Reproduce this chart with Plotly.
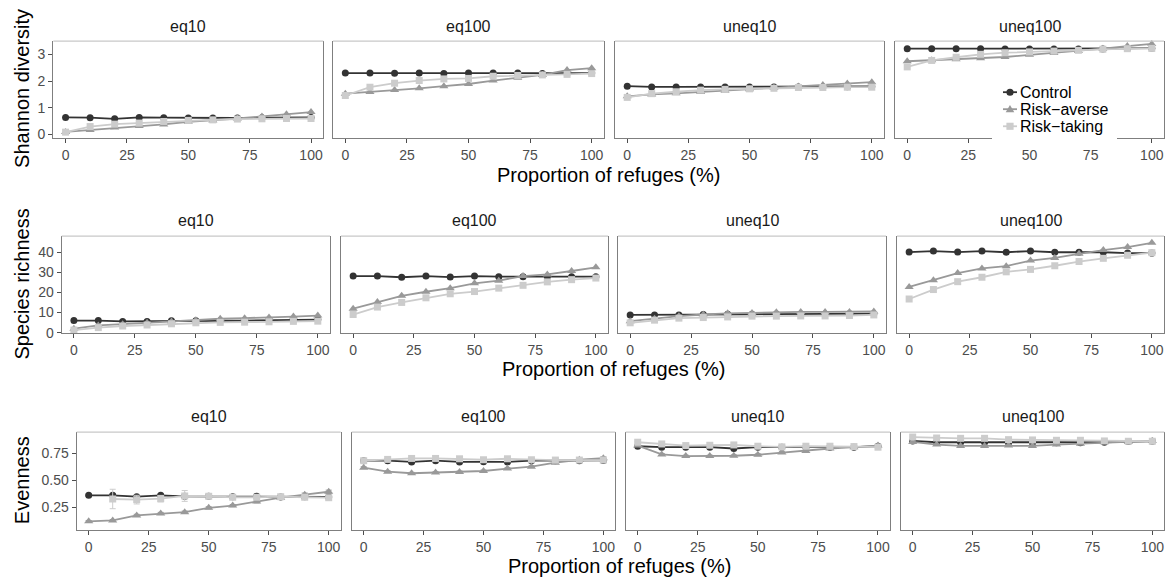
import plotly.graph_objects as go

# Proportion of refuges (%)
refuge = [0, 10, 20, 30, 40, 50, 60, 70, 80, 90, 100]
scenarios = ["eq10", "eq100", "uneq10", "uneq100"]
treatments = ["Control", "Risk\u2212averse", "Risk\u2212taking"]

# Shannon diversity, one list per scenario (eq10, eq100, uneq10, uneq100)
shannon_control = [
    [0.64, 0.63, 0.59, 0.64, 0.63, 0.62, 0.62, 0.62, 0.63, 0.64, 0.64],
    [2.30, 2.30, 2.29, 2.30, 2.28, 2.30, 2.30, 2.30, 2.28, 2.28, 2.30],
    [1.81, 1.78, 1.78, 1.78, 1.78, 1.78, 1.78, 1.78, 1.78, 1.79, 1.80],
    [3.21, 3.21, 3.21, 3.21, 3.20, 3.20, 3.20, 3.20, 3.20, 3.22, 3.23],
]
shannon_averse = [
    [0.10, 0.17, 0.26, 0.32, 0.38, 0.48, 0.53, 0.60, 0.68, 0.76, 0.84],
    [1.53, 1.59, 1.67, 1.73, 1.81, 1.89, 2.02, 2.12, 2.23, 2.41, 2.48],
    [1.43, 1.50, 1.54, 1.59, 1.64, 1.69, 1.75, 1.80, 1.85, 1.91, 1.96],
    [2.74, 2.78, 2.82, 2.85, 2.90, 2.98, 3.05, 3.12, 3.21, 3.31, 3.39],
]
shannon_taking = [
    [0.09, 0.30, 0.39, 0.43, 0.49, 0.53, 0.55, 0.58, 0.59, 0.60, 0.60],
    [1.46, 1.77, 1.92, 2.02, 2.08, 2.10, 2.18, 2.21, 2.23, 2.25, 2.28],
    [1.39, 1.53, 1.60, 1.66, 1.69, 1.71, 1.73, 1.76, 1.76, 1.77, 1.77],
    [2.53, 2.77, 2.89, 3.00, 3.06, 3.09, 3.12, 3.15, 3.19, 3.21, 3.22],
]

# Species richness
richness_control = [
    [6.0, 6.0, 5.6, 5.6, 5.9, 5.9, 5.9, 6.0, 6.2, 6.4, 6.5],
    [28.1, 28.1, 27.5, 28.1, 27.6, 28.1, 27.8, 27.8, 27.8, 27.8, 27.8],
    [8.8, 8.8, 8.8, 9.0, 9.1, 9.1, 9.2, 9.3, 9.3, 9.4, 9.4],
    [40.0, 40.5, 40.0, 40.5, 39.9, 40.5, 39.9, 39.9, 39.9, 39.5, 39.5],
]
richness_averse = [
    [2.0, 3.6, 4.2, 4.9, 5.6, 6.2, 6.9, 7.2, 7.5, 8.0, 8.5],
    [11.9, 15.2, 18.3, 20.3, 22.1, 24.5, 25.8, 28.1, 28.9, 30.6, 32.4],
    [5.7, 6.9, 8.2, 9.0, 9.6, 9.8, 10.1, 10.3, 10.3, 10.3, 10.5],
    [22.7, 26.0, 29.6, 31.9, 33.0, 35.8, 37.1, 39.1, 41.0, 42.5, 44.6],
]
richness_taking = [
    [1.3, 2.5, 3.3, 3.8, 4.4, 4.9, 5.1, 5.2, 5.4, 5.6, 5.7],
    [9.0, 12.7, 15.0, 17.3, 19.3, 20.4, 22.1, 23.5, 25.2, 26.3, 27.1],
    [4.9, 6.2, 7.2, 7.5, 7.8, 8.2, 8.2, 8.3, 8.3, 8.5, 8.8],
    [16.7, 21.4, 25.3, 27.5, 30.2, 31.4, 33.2, 35.3, 36.9, 38.4, 39.7],
]

# Evenness (undefined where a single species remains)
evenness_control = [
    [0.363, 0.363, 0.350, 0.363, 0.354, 0.354, 0.350, 0.354, 0.348, 0.350, 0.348],
    [0.683, 0.683, 0.672, 0.683, 0.672, 0.674, 0.672, 0.683, 0.683, 0.683, 0.686],
    [0.817, 0.808, 0.808, 0.808, 0.796, 0.808, 0.808, 0.808, 0.808, 0.808, 0.817],
    [0.866, 0.854, 0.854, 0.854, 0.850, 0.850, 0.850, 0.850, 0.854, 0.860, 0.863],
]
evenness_averse = [
    [0.122, 0.131, 0.177, 0.195, 0.207, 0.247, 0.268, 0.305, 0.341, 0.369, 0.396],
    [0.619, 0.582, 0.567, 0.573, 0.579, 0.588, 0.610, 0.628, 0.665, 0.692, 0.707],
    [0.823, 0.741, 0.726, 0.726, 0.729, 0.738, 0.759, 0.774, 0.796, 0.808, 0.823],
    [0.857, 0.832, 0.820, 0.820, 0.823, 0.820, 0.832, 0.841, 0.854, 0.857, 0.866],
]
evenness_taking = [
    [None, 0.329, 0.323, 0.332, 0.357, 0.354, 0.345, 0.345, 0.350, 0.345, 0.341],
    [0.683, 0.695, 0.704, 0.704, 0.701, 0.692, 0.701, 0.692, 0.689, 0.689, 0.689],
    [0.854, 0.838, 0.823, 0.826, 0.829, 0.817, 0.811, 0.817, 0.817, 0.814, 0.808],
    [0.902, 0.893, 0.890, 0.890, 0.878, 0.875, 0.872, 0.872, 0.866, 0.863, 0.863],
]
# Standard errors of evenness
evenness_control_se = [
    [0.010, 0.010, 0.008, 0.010, 0.012, 0.012, 0.010, 0.012, 0.012, 0.012, 0.012],
    [0.008, 0.008, 0.010, 0.008, 0.010, 0.010, 0.010, 0.008, 0.008, 0.008, 0.008],
    [0.010, 0.010, 0.008, 0.008, 0.010, 0.008, 0.008, 0.008, 0.008, 0.008, 0.010],
    [0.006, 0.008, 0.008, 0.008, 0.006, 0.006, 0.006, 0.006, 0.006, 0.006, 0.006],
]
evenness_averse_se = [
    [0.008, 0.008, 0.010, 0.010, 0.010, 0.010, 0.010, 0.012, 0.012, 0.015, 0.015],
    [0.008, 0.008, 0.008, 0.008, 0.008, 0.008, 0.008, 0.008, 0.008, 0.010, 0.012],
    [0.008, 0.008, 0.008, 0.008, 0.008, 0.008, 0.008, 0.008, 0.008, 0.008, 0.012],
    [0.006, 0.006, 0.006, 0.006, 0.006, 0.006, 0.006, 0.006, 0.006, 0.006, 0.006],
]
evenness_taking_se = [
    [None, 0.090, 0.040, 0.030, 0.050, 0.020, 0.015, 0.015, 0.015, 0.020, 0.015],
    [0.008, 0.008, 0.008, 0.008, 0.008, 0.008, 0.008, 0.008, 0.008, 0.012, 0.010],
    [0.008, 0.008, 0.008, 0.008, 0.008, 0.008, 0.008, 0.008, 0.008, 0.008, 0.008],
    [0.006, 0.006, 0.006, 0.006, 0.006, 0.006, 0.006, 0.006, 0.006, 0.008, 0.008],
]

metrics = [
    ("Shannon diversity", [shannon_control, shannon_averse, shannon_taking], None,
     [0, 1, 2, 3], None, [-0.14, 3.49]),
    ("Species richness", [richness_control, richness_averse, richness_taking], None,
     [0, 10, 20, 30, 40], None, [-0.3, 47.9]),
    ("Evenness", [evenness_control, evenness_averse, evenness_taking],
     [evenness_control_se, evenness_averse_se, evenness_taking_se],
     [0.25, 0.50, 0.75], ".2f", [0.046, 0.948]),
]

colors = ["#333333", "#999999", "#cccccc"]
symbols = ["circle", "triangle-up", "square"]
msizes = [7, 8, 7]

W, H = 1171, 585
FONT = "Liberation Sans, Arial, Helvetica, sans-serif"

# Panel pixel boxes per row: (left, right) per column, (top, bottom)
row_cols = [
    [(53.3, 323.3), (333, 604), (615, 884), (895, 1164)],
    [(61.7, 330), (341, 608), (618, 886), (897, 1164)],
    [(76.7, 340.7), (351.7, 615.3), (625.7, 890), (900.7, 1164.3)],
]
row_tb = [(41.7, 140), (239, 337.3), (437.3, 536)]
strip_y = [27, 223, 422]
xtitle_pos = [(608.7, 177), (613, 373), (619.7, 573)]
ytitle_y = [90, 288, 486]


def px(x):
    return x / W


def py(y):
    return 1 - y / H


fig = go.Figure()
annotations = []
shapes = []

n = 0
for r, (ylabel, series, errs, yticks, yfmt, yrange) in enumerate(metrics):
    top, bot = row_tb[r]
    for c, scen in enumerate(scenarios):
        n += 1
        xa = "x" if n == 1 else f"x{n}"
        ya = "y" if n == 1 else f"y{n}"
        for t in range(3):
            err = None
            if errs is not None:
                err = dict(type="data", array=errs[t][c], visible=True,
                           color=colors[t], thickness=1, width=3)
            fig.add_trace(go.Scatter(
                x=refuge, y=series[t][c], xaxis=xa, yaxis=ya,
                mode="lines+markers", name=treatments[t],
                showlegend=False,
                line=dict(color=colors[t], width=1.8),
                marker=dict(color=colors[t], symbol=symbols[t], size=msizes[t]),
                error_y=err, connectgaps=False, cliponaxis=False,
            ))
        left, right = row_cols[r][c]
        xkey = "xaxis" if n == 1 else f"xaxis{n}"
        ykey = "yaxis" if n == 1 else f"yaxis{n}"
        fig.layout[xkey] = dict(
            domain=[px(left), px(right)], anchor=ya, range=[-5, 105],
            tickvals=[0, 25, 50, 75, 100], ticks="outside", ticklen=4,
            tickcolor="#4d4d4d", tickwidth=1,
            tickfont=dict(size=14, color="#4d4d4d", family=FONT),
            showline=True, linecolor="#7f7f7f", linewidth=1.3, mirror=False,
            showgrid=False, zeroline=False, fixedrange=True,
        )
        fig.layout[ykey] = dict(
            domain=[py(bot), py(top)], anchor=xa, range=yrange,
            tickvals=yticks, tickformat=yfmt, ticks="outside" if c == 0 else "",
            ticklen=4, tickcolor="#4d4d4d", tickwidth=1,
            showticklabels=(c == 0),
            tickfont=dict(size=14, color="#4d4d4d", family=FONT),
            showline=True, linecolor="#7f7f7f", linewidth=1.3, mirror=True,
            showgrid=False, zeroline=False, fixedrange=True,
        )
        # light top edge of panel
        shapes.append(dict(type="line", xref=f"{xa} domain", yref=f"{ya} domain",
                           x0=0, x1=1, y0=1, y1=1,
                           line=dict(color="#c8c8c8", width=1.2)))
        annotations.append(dict(
            text=scen, x=px((left + right) / 2), y=py(strip_y[r]),
            xref="paper", yref="paper", showarrow=False,
            xanchor="center", yanchor="middle",
            font=dict(size=16, color="#1a1a1a", family=FONT),
        ))
    annotations.append(dict(
        text="Proportion of refuges (%)", x=px(xtitle_pos[r][0]),
        y=py(xtitle_pos[r][1]), xref="paper", yref="paper",
        showarrow=False, xanchor="center", yanchor="middle",
        font=dict(size=20, color="#000000", family=FONT),
    ))
    annotations.append(dict(
        text=ylabel, x=px(22), y=py(ytitle_y[r]), xref="paper", yref="paper",
        showarrow=False, xanchor="center", yanchor="middle", textangle=-90,
        font=dict(size=20, color="#000000", family=FONT),
    ))

# Legend key drawn inside the uneq100 Shannon panel on a white box
shapes.append(dict(type="rect", xref="paper", yref="paper", layer="above",
                   x0=px(992), x1=px(1117), y0=py(145), y1=py(80),
                   fillcolor="white", line=dict(width=0)))
key_rows = [93.3, 110.5, 127.8]
kx0, kx1 = 1003, 1017
kxc = (kx0 + kx1) / 2
for t in range(3):
    yy = key_rows[t]
    shapes.append(dict(type="line", xref="paper", yref="paper", layer="above",
                       x0=px(kx0), x1=px(kx1), y0=py(yy), y1=py(yy),
                       line=dict(color=colors[t], width=1.8)))
    if symbols[t] == "circle":
        rr = 3.6
        shapes.append(dict(type="circle", xref="paper", yref="paper", layer="above",
                           x0=px(kxc - rr), x1=px(kxc + rr),
                           y0=py(yy + rr), y1=py(yy - rr),
                           fillcolor=colors[t], line=dict(width=0)))
    elif symbols[t] == "triangle-up":
        path = (f"M {px(kxc - 4.3)} {py(yy + 3.2)} L {px(kxc + 4.3)} {py(yy + 3.2)} "
                f"L {px(kxc)} {py(yy - 4.3)} Z")
        shapes.append(dict(type="path", xref="paper", yref="paper", layer="above",
                           path=path, fillcolor=colors[t], line=dict(width=0)))
    else:
        hh = 3.6
        shapes.append(dict(type="rect", xref="paper", yref="paper", layer="above",
                           x0=px(kxc - hh), x1=px(kxc + hh),
                           y0=py(yy + hh), y1=py(yy - hh),
                           fillcolor=colors[t], line=dict(width=0)))
    annotations.append(dict(
        text=treatments[t], x=px(1018), y=py(yy), xref="paper", yref="paper",
        showarrow=False, xanchor="left", yanchor="middle",
        font=dict(size=16, color="#000000", family=FONT),
    ))

fig.update_layout(
    width=W, height=H, margin=dict(l=0, r=0, t=0, b=0),
    paper_bgcolor="white", plot_bgcolor="white",
    font=dict(family=FONT), showlegend=False,
    annotations=annotations, shapes=shapes,
)

fig.write_html("out.html")
